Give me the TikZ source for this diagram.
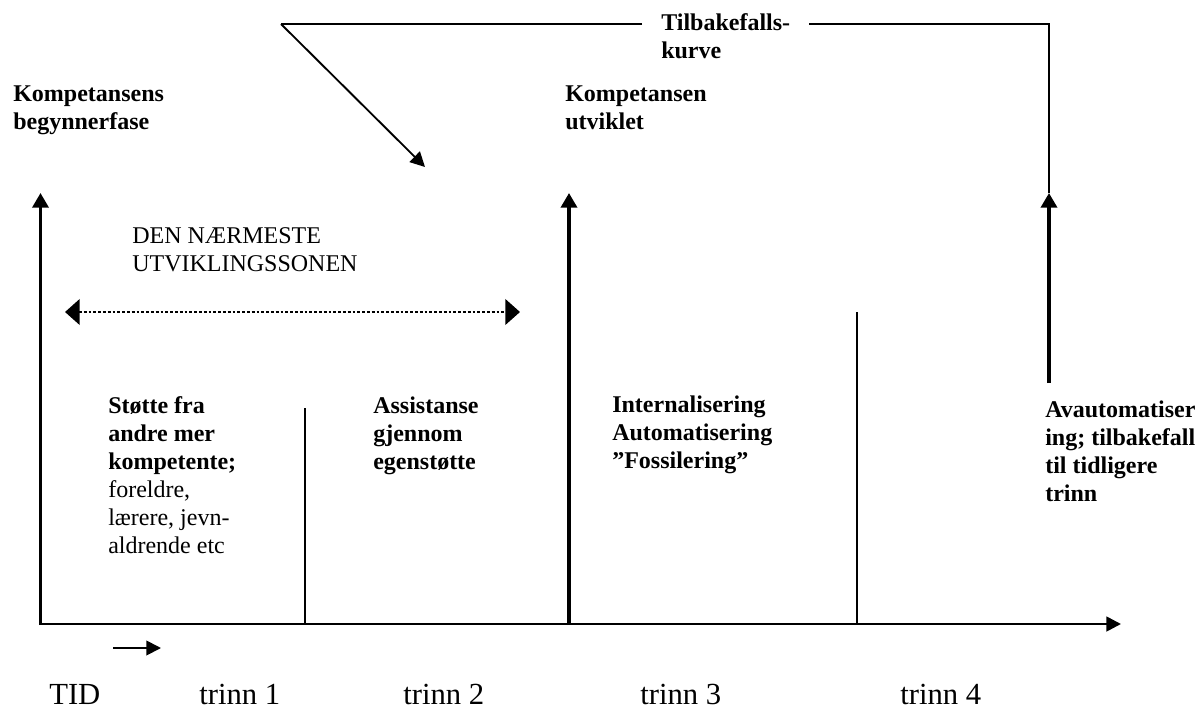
\documentclass[tikz,border=0pt]{standalone}
\usepackage{fontspec}
\setmainfont{Liberation Serif}
\usetikzlibrary{arrows.meta}

\begin{document}
\begin{tikzpicture}[
      x=0.75pt, y=-0.75pt,
      lbl/.style={anchor=north west, inner sep=0pt, align=left, font=\bfseries\fontsize{18}{21}\selectfont, execute at begin node=\strut},
      plainlbl/.style={lbl, font=\fontsize{18}{21}\selectfont},
      stage/.style={anchor=base west, inner sep=0pt, font=\fontsize{23}{27}\selectfont},
      bigarrow/.style={line width=2.6pt, -{Triangle[length=11pt,width=12pt]}},
      axis/.style={line width=2pt, -{Triangle[length=11pt,width=11pt]}},
      divider/.style={line width=1.2pt},
      curve/.style={line width=1.4pt},
      zone/.style={line width=2.2pt, dash pattern=on 2.2pt off 1.4pt, {Triangle[length=11pt,width=19pt]}-{Triangle[length=11pt,width=19pt]}}
    ]
    \useasboundingbox (0,0) rectangle (1199,710);

    \node[lbl] (start) at (13,85.4) {Kompetansens\\begynnerfase};
    \node[lbl] (done) at (565,85.4) {Kompetansen\\utviklet};
    \node[lbl] (tilb) at (661,13.4) {Tilbakefalls-\\kurve};
    \node[plainlbl] (zpd) at (132,227.4) {DEN NÆRMESTE\\UTVIKLINGSSONEN};
    \node[plainlbl] (s1) at (108,396.4) {{\bfseries Støtte fra}\\{\bfseries andre mer}\\{\bfseries kompetente;}\\foreldre,\\lærere, jevn-\\aldrende etc};
    \node[lbl] (s2) at (373,396.4) {Assistanse\\gjennom\\egenstøtte};
    \node[lbl] (s3) at (612,395.4) {Internalisering\\Automatisering\\”Fossilering”};
    \node[lbl] (s4) at (1045,400.4) {Avautomatiser\\ing; tilbakefall\\til tidligere\\trinn};

    \node[stage] (tid) at (49,704) {TID};
    \node[stage] (t1) at (199,704) {trinn 1};
    \node[stage] (t2) at (403,704) {trinn 2};
    \node[stage] (t3) at (640,704) {trinn 3};
    \node[stage] (t4) at (900,704) {trinn 4};

    \coordinate (o) at (39.5,624);
    \coordinate (xend) at (1121,624);
    \coordinate (lb) at (40.5,625);
    \coordinate (lt) at (40.5,193);
    \coordinate (mb) at (569,625);
    \coordinate (mt) at (569,193);
    \coordinate (d1b) at (305,624);
    \coordinate (d1t) at (305,408);
    \coordinate (d3b) at (857,624);
    \coordinate (d3t) at (857,312);
    \coordinate (rb) at (1049,383);
    \coordinate (rt) at (1049,193);
    \coordinate (corner) at (1049,24);
    \coordinate (gapr) at (809,24);
    \coordinate (gapl) at (642,24);
    \coordinate (apex) at (281,24);
    \coordinate (dtip) at (425,167);
    \coordinate (zl) at (65,312);
    \coordinate (zr) at (520,312);
    \coordinate (ta) at (113,648);
    \coordinate (tb) at (161,648);

    \draw[axis] (o) -- (xend);
    \draw[bigarrow] (lb) -- (lt);
    \draw[bigarrow] (mb) -- (mt);
    \draw[divider] (d1b) -- (d1t);
    \draw[divider] (d3b) -- (d3t);
    \draw[bigarrow] (rb) -- (rt);
    \draw[curve] (rt) -- (corner) -- (gapr);
    \draw[curve] (gapl) -- (apex);
    \draw[curve, -{Triangle[length=11pt,width=11pt]}] (apex) -- (dtip);
    \draw[zone] (zl) -- (zr);
    \draw[curve, -{Triangle[length=11pt,width=11pt]}] (ta) -- (tb);
  \end{tikzpicture}
\end{document}
